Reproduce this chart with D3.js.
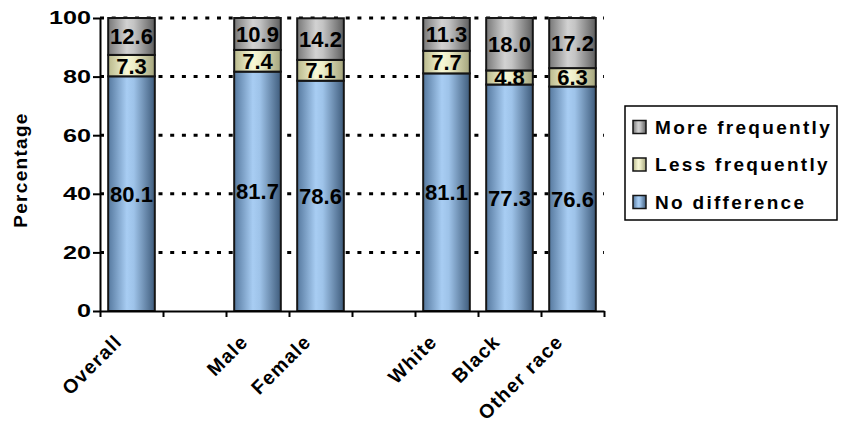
<!DOCTYPE html>
<html>
<head>
<meta charset="utf-8">
<script src="https://cdn.jsdelivr.net/npm/d3@7/dist/d3.min.js"></script>
<style>
  html, body { margin: 0; padding: 0; background: #fff; }
  svg { display: block; font-family: "Liberation Sans", Arial, sans-serif; font-weight: bold; }
</style>
</head>
<body>
<svg id="chart" width="846" height="426"></svg>
<script>
// Category slots along the x axis (null = empty spacer slot)
const slots = ["Overall", null, "Male", "Female", null, "White", "Black", "Other race"];
const groups = ["Overall", "Male", "Female", "White", "Black", "Other race"];

// Percentages per group
const noDifference   = [80.1, 81.7, 78.6, 81.1, 77.3, 76.6];
const lessFrequently = [7.3, 7.4, 7.1, 7.7, 4.8, 6.3];
const moreFrequently = [12.6, 10.9, 14.2, 11.3, 18.0, 17.2];

const seriesNames = ["No difference", "Less frequently", "More frequently"];
const yTicks = [0, 20, 40, 60, 80, 100];

const rows = groups.map((g, i) => ({
  group: g,
  "No difference": noDifference[i],
  "Less frequently": lessFrequently[i],
  "More frequently": moreFrequently[i]
}));

const svg = d3.select("#chart");

const plotLeft = 100, plotRight = 604, plotTop = 18, plotBottom = 311;

const x = d3.scaleBand()
  .domain(d3.range(slots.length))
  .range([plotLeft, plotRight])
  .paddingInner(0.26)
  .paddingOuter(0.13);

const y = d3.scaleLinear().domain([0, 100]).range([plotBottom, plotTop]);

// Gradients for the cylinder-like bar shading
const defs = svg.append("defs");
const grad = {
  "No difference":   ["#56799f", "#a8cdf3", "#9ec3e9", "#3f5c7c"],
  "Less frequently": ["#b9b98c", "#f8f8d6", "#eeeec8", "#a4a47c"],
  "More frequently": ["#777777", "#d2d2d2", "#c4c4c4", "#5e5e5e"]
};
const gid = {};
seriesNames.forEach((s, i) => {
  const id = "g" + i;
  gid[s] = id;
  const lg = defs.append("linearGradient").attr("id", id)
    .attr("x1", "0%").attr("x2", "100%").attr("y1", "0%").attr("y2", "0%");
  const c = grad[s];
  lg.append("stop").attr("offset", "0%").attr("stop-color", c[0]);
  lg.append("stop").attr("offset", "40%").attr("stop-color", c[1]);
  lg.append("stop").attr("offset", "55%").attr("stop-color", c[2]);
  lg.append("stop").attr("offset", "100%").attr("stop-color", c[3]);
});

// Dotted gridlines
svg.append("g")
  .selectAll("line")
  .data(yTicks.filter(t => t > 0))
  .join("line")
  .attr("x1", plotLeft).attr("x2", plotRight)
  .attr("y1", d => y(d)).attr("y2", d => y(d))
  .attr("stroke", "#000")
  .attr("stroke-width", 3)
  .attr("stroke-dasharray", "4 7.7");

// Stacked bars
const stacked = d3.stack().keys(seriesNames)(rows);
const slotOf = g => slots.indexOf(g);

const layers = svg.append("g")
  .selectAll("g")
  .data(stacked)
  .join("g")
  .attr("fill", d => `url(#${gid[d.key]})`);

layers.selectAll("rect")
  .data(d => d)
  .join("rect")
  .attr("x", d => x(slotOf(d.data.group)))
  .attr("width", x.bandwidth())
  .attr("y", d => y(Math.min(d[1], 100)))
  .attr("height", d => y(d[0]) - y(Math.min(d[1], 100)))
  .attr("stroke", "#151515")
  .attr("stroke-width", 2);

// Value labels centred in each segment
stacked.forEach(layer => {
  svg.append("g")
    .selectAll("text")
    .data(layer)
    .join("text")
    .attr("x", d => x(slotOf(d.data.group)) + x.bandwidth() / 2)
    .attr("y", d => y((d[0] + Math.min(d[1], 100)) / 2))
    .attr("dy", "0.36em")
    .attr("text-anchor", "middle")
    .style("font-size", "22px")
    .attr("fill", "#000")
    .text(d => (d[1] - d[0]).toFixed(1));
});

// Y axis
const yAxis = svg.append("g")
  .attr("transform", `translate(${plotLeft},0)`)
  .call(d3.axisLeft(y).tickValues(yTicks).tickSize(7).tickSizeOuter(0));
yAxis.select(".domain").attr("stroke", "#000").attr("stroke-width", 2);
yAxis.selectAll(".tick line").attr("stroke", "#000").attr("stroke-width", 2);
// Wide, heavy tick numerals
yAxis.selectAll(".tick text")
  .attr("x", 0)
  .attr("transform", "translate(-9,0) scale(1.36,1)")
  .style("font-family", "'Liberation Sans', Arial, sans-serif")
  .style("font-weight", "bold")
  .style("font-size", "18.5px")
  .attr("fill", "#000");

// X axis: ticks sit on the slot boundaries
const xb = d3.scaleLinear().domain([0, slots.length]).range([plotLeft, plotRight]);
const xAxis = svg.append("g")
  .attr("transform", `translate(0,${plotBottom})`)
  .call(d3.axisBottom(xb).ticks(slots.length).tickFormat("").tickSize(6).tickSizeOuter(0));
xAxis.select(".domain").attr("stroke", "#000").attr("stroke-width", 2);
xAxis.selectAll(".tick line").attr("stroke", "#000").attr("stroke-width", 2);

// Rotated category labels
svg.append("g")
  .selectAll("text")
  .data(groups)
  .join("text")
  .attr("transform", g => `translate(${x(slotOf(g)) + x.bandwidth() / 2 - 13},${plotBottom + 27}) rotate(-45)`)
  .attr("text-anchor", "end")
  .attr("dy", "0.35em")
  .style("font-size", "19.5px")
  .style("letter-spacing", "1.3px")
  .text(g => g);

// Y axis title
svg.append("text")
  .attr("transform", `translate(27,170) rotate(-90)`)
  .attr("text-anchor", "middle")
  .style("font-size", "19px")
  .style("letter-spacing", "1.3px")
  .text("Percentage");

// Legend
const legend = svg.append("g");
legend.append("rect")
  .attr("x", 625).attr("y", 106)
  .attr("width", 212).attr("height", 114)
  .attr("fill", "#fff").attr("stroke", "#000").attr("stroke-width", 1.5);

const legendOrder = seriesNames.slice().reverse();
const item = legend.selectAll("g.item")
  .data(legendOrder)
  .join("g")
  .attr("class", "item")
  .attr("transform", (d, i) => `translate(633,${127 + i * 37.5})`);
item.append("rect")
  .attr("x", 0).attr("y", -6.5)
  .attr("width", 13).attr("height", 13)
  .attr("fill", d => `url(#${gid[d]})`)
  .attr("stroke", "#151515").attr("stroke-width", 1.5);
item.append("text")
  .attr("x", 22).attr("y", 0)
  .attr("dy", "0.36em")
  .style("font-size", "19px")
  .style("letter-spacing", "2.3px")
  .text(d => d);
</script>
</body>
</html>
